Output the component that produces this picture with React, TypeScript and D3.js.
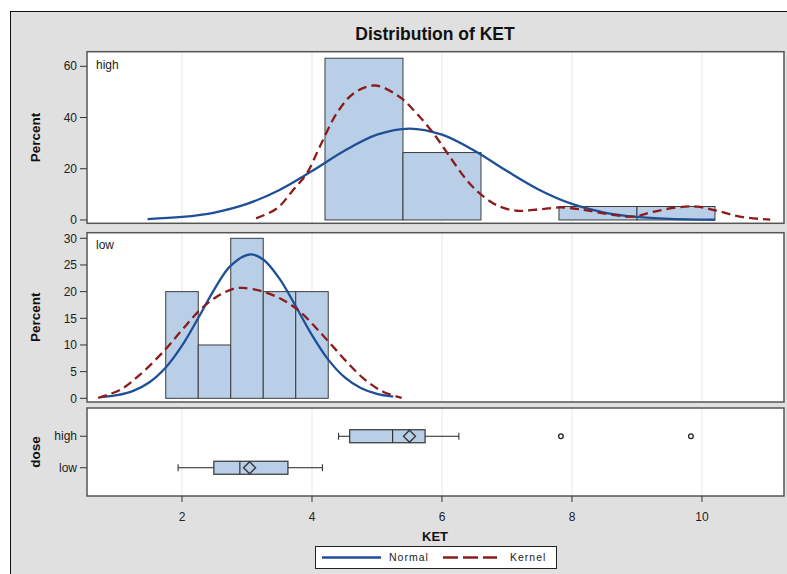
import React from "react";
import * as d3 from "d3";

// Histogram bins (KET) and percentages per dose group
const highEdges = [4.2, 5.4, 6.6, 7.8, 9.0, 10.2];
const highPct = [63.16, 26.32, 0, 5.26, 5.26];
const lowEdges = [1.75, 2.25, 2.75, 3.25, 3.75, 4.25];
const lowPct = [20, 10, 30, 20, 20];

// Fitted normal curve, high dose
const highNormalX = [1.47, 2.0, 2.5, 3.0, 3.5, 4.0, 4.5, 5.0, 5.5, 6.0, 6.5, 7.0, 7.5, 8.0, 8.5, 9.0, 9.5, 10.0, 10.2];
const highNormalY = [0.35, 1.18, 2.91, 6.26, 11.72, 19.08, 27.02, 33.3, 35.7, 33.3, 27.02, 19.08, 11.72, 6.26, 2.91, 1.18, 0.41, 0.13, 0.08];

// Kernel density, high dose
const highKernelX = [3.14, 3.46, 3.71, 3.92, 4.12, 4.38, 4.64, 4.97, 5.35, 5.61, 5.87, 6.12, 6.38, 6.58, 6.84, 7.15, 7.51, 7.82, 8.12, 8.48, 8.94, 9.25, 9.61, 9.92, 10.23, 10.58, 11.05];
const highKernelY = [0.65, 4.5, 11.7, 18.2, 28.6, 41.6, 49.4, 52.5, 48.0, 41.6, 33.8, 24.7, 15.6, 10.4, 5.8, 3.6, 4.2, 4.9, 4.2, 2.6, 1.3, 3.2, 4.9, 5.2, 3.6, 1.3, 0.1];

// Fitted normal curve, low dose
const lowNormalX = [0.75, 1.0, 1.25, 1.5, 1.75, 2.0, 2.25, 2.5, 2.75, 3.05, 3.25, 3.5, 3.75, 4.0, 4.25, 4.5, 4.75, 5.0, 5.25];
const lowNormalY = [0.22, 0.58, 1.4, 3.01, 5.77, 9.87, 15.05, 20.49, 24.87, 27.0, 26.03, 22.44, 17.26, 11.85, 7.25, 3.96, 1.93, 0.84, 0.33];

// Kernel density, low dose
const lowKernelX = [0.71, 1.05, 1.35, 1.74, 2.02, 2.28, 2.54, 2.79, 2.94, 3.25, 3.56, 3.82, 4.07, 4.28, 4.53, 4.79, 5.1, 5.38];
const lowKernelY = [0.1, 1.6, 4.4, 9.1, 13.1, 16.6, 19.1, 20.5, 20.7, 20.0, 18.4, 16.2, 13.1, 10.3, 6.9, 3.75, 1.2, 0.1];

// Box plot statistics
const doseGroups = ["high", "low"];
const boxMin = [4.41, 1.94];
const boxQ1 = [4.58, 2.49];
const boxMedian = [5.24, 2.89];
const boxMean = [5.5, 3.04];
const boxQ3 = [5.74, 3.63];
const boxMax = [6.26, 4.16];
const highOutliers = [7.83, 9.83];

const xTicks = [2, 4, 6, 8, 10];
const highTicks = [0, 20, 40, 60];
const lowTicks = [0, 5, 10, 15, 20, 25, 30];

const W = 787;
const H = 574;
const PL = 87;
const PR = 784;
const FONT = "'Liberation Sans', Arial, sans-serif";

const BAR_FILL = "#b9cfe8";
const BAR_STROKE = "#3c3c3c";
const NORMAL = "#1f4f96";
const KERNEL = "#8c1c1c";
const FRAME = "#555";
const TICK_FS = 12;
const LABEL_FS = 13.5;

const x = d3.scaleLinear().domain([0.5385, 11.262]).range([PL, PR]);

const yHigh = d3.scaleLinear().domain([-1.3, 65.7]).range([223.3, 51.7]);
const yLow = d3.scaleLinear().domain([-0.69, 31.05]).range([402, 232.7]);
const yDose = d3.scalePoint<string>().domain(doseGroups).range([408, 496]).padding(0.897);

function curvePath(xs: number[], ys: number[], y: d3.ScaleLinear<number, number>) {
  const line = d3
    .line<number>()
    .x((_, i) => x(xs[i]))
    .y((_, i) => y(ys[i]))
    .curve(d3.curveCatmullRom.alpha(0.5));
  return line(xs) || "";
}

function Grid({ top, bottom }: { top: number; bottom: number }) {
  return (
    <g>
      {xTicks.map((t) => (
        <line key={t} x1={x(t)} x2={x(t)} y1={top} y2={bottom} stroke="#e6e6e6" strokeWidth={1} />
      ))}
    </g>
  );
}

function YAxis({ ticks, y }: { ticks: number[]; y: d3.ScaleLinear<number, number> }) {
  return (
    <g>
      {ticks.map((t) => (
        <g key={t}>
          <line x1={PL - 7} x2={PL} y1={y(t)} y2={y(t)} stroke="#333" strokeWidth={1} />
          <text x={PL - 10} y={y(t)} dy="0.35em" textAnchor="end" fontSize={TICK_FS} fill="#222">
            {t}
          </text>
        </g>
      ))}
    </g>
  );
}

function Bars({ edges, pct, y }: { edges: number[]; pct: number[]; y: d3.ScaleLinear<number, number> }) {
  return (
    <g>
      {pct.map((p, i) =>
        p > 0 ? (
          <rect
            key={i}
            x={x(edges[i])}
            y={y(p)}
            width={x(edges[i + 1]) - x(edges[i])}
            height={y(0) - y(p)}
            fill={BAR_FILL}
            stroke={BAR_STROKE}
            strokeWidth={1}
          />
        ) : null
      )}
    </g>
  );
}

export default function App() {
  const highTop = 51.7, highBot = 223.3;
  const lowTop = 232.7, lowBot = 402;
  const boxTop = 408, boxBot = 496;
  const boxH = 13;

  return (
    <svg
      width={W}
      height={H}
      style={{ position: "absolute", left: 0, top: 0, fontFamily: FONT }}
    >
      <rect x={0} y={0} width={W} height={H} fill="#fff" />
      <rect x={10.5} y={11.5} width={W + 10} height={H + 10} fill="#e0e0e0" stroke="#111" strokeWidth={1} />

      <text x={435} y={40} textAnchor="middle" fontSize={17.5} fontWeight="bold" fill="#111">
        Distribution of KET
      </text>

      {/* high dose histogram */}
      <rect x={PL} y={highTop} width={PR - PL} height={highBot - highTop} fill="#fff" />
      <Grid top={highTop} bottom={highBot} />
      <Bars edges={highEdges} pct={highPct} y={yHigh} />
      <path d={curvePath(highNormalX, highNormalY, yHigh)} fill="none" stroke={NORMAL} strokeWidth={2.3} />
      <path d={curvePath(highKernelX, highKernelY, yHigh)} fill="none" stroke={KERNEL} strokeWidth={2.3} strokeDasharray="9,5" />
      <rect x={PL} y={highTop} width={PR - PL} height={highBot - highTop} fill="none" stroke={FRAME} strokeWidth={1.5} />
      <text x={96} y={69} fontSize={TICK_FS} fill="#222">high</text>
      <YAxis ticks={highTicks} y={yHigh} />
      <text transform={`translate(40,${(highTop + highBot) / 2}) rotate(-90)`} textAnchor="middle" fontSize={LABEL_FS} fontWeight="bold" fill="#111">
        Percent
      </text>

      {/* low dose histogram */}
      <rect x={PL} y={lowTop} width={PR - PL} height={lowBot - lowTop} fill="#fff" />
      <Grid top={lowTop} bottom={lowBot} />
      <Bars edges={lowEdges} pct={lowPct} y={yLow} />
      <path d={curvePath(lowNormalX, lowNormalY, yLow)} fill="none" stroke={NORMAL} strokeWidth={2.3} />
      <path d={curvePath(lowKernelX, lowKernelY, yLow)} fill="none" stroke={KERNEL} strokeWidth={2.3} strokeDasharray="9,5" />
      <rect x={PL} y={lowTop} width={PR - PL} height={lowBot - lowTop} fill="none" stroke={FRAME} strokeWidth={1.5} />
      <text x={96} y={249} fontSize={TICK_FS} fill="#222">low</text>
      <YAxis ticks={lowTicks} y={yLow} />
      <text transform={`translate(40,${(lowTop + lowBot) / 2}) rotate(-90)`} textAnchor="middle" fontSize={LABEL_FS} fontWeight="bold" fill="#111">
        Percent
      </text>

      {/* box plots by dose */}
      <rect x={PL} y={boxTop} width={PR - PL} height={boxBot - boxTop} fill="#fff" />
      <Grid top={boxTop} bottom={boxBot} />
      {doseGroups.map((g, i) => {
        const cy = yDose(g) as number;
        const m = x(boxMean[i]);
        return (
          <g key={g}>
            <line x1={x(boxMin[i])} x2={x(boxQ1[i])} y1={cy} y2={cy} stroke="#222" strokeWidth={1} />
            <line x1={x(boxQ3[i])} x2={x(boxMax[i])} y1={cy} y2={cy} stroke="#222" strokeWidth={1} />
            <line x1={x(boxMin[i])} x2={x(boxMin[i])} y1={cy - 3.5} y2={cy + 3.5} stroke="#222" strokeWidth={1} />
            <line x1={x(boxMax[i])} x2={x(boxMax[i])} y1={cy - 3.5} y2={cy + 3.5} stroke="#222" strokeWidth={1} />
            <rect
              x={x(boxQ1[i])}
              y={cy - boxH / 2}
              width={x(boxQ3[i]) - x(boxQ1[i])}
              height={boxH}
              fill={BAR_FILL}
              stroke="#333"
              strokeWidth={1.2}
            />
            <line x1={x(boxMedian[i])} x2={x(boxMedian[i])} y1={cy - boxH / 2} y2={cy + boxH / 2} stroke="#333" strokeWidth={1.2} />
            <path d={`M${m - 6},${cy} L${m},${cy - 6} L${m + 6},${cy} L${m},${cy + 6} Z`} fill="none" stroke="#333" strokeWidth={1.3} />
          </g>
        );
      })}
      {highOutliers.map((v) => (
        <circle key={v} cx={x(v)} cy={yDose("high") as number} r={2.3} fill="#fff" stroke="#222" strokeWidth={1.3} />
      ))}
      <rect x={PL} y={boxTop} width={PR - PL} height={boxBot - boxTop} fill="none" stroke={FRAME} strokeWidth={1.5} />
      {doseGroups.map((g) => (
        <g key={g}>
          <line x1={PL - 7} x2={PL} y1={yDose(g) as number} y2={yDose(g) as number} stroke="#333" strokeWidth={1} />
          <text x={PL - 10} y={yDose(g) as number} dy="0.35em" textAnchor="end" fontSize={TICK_FS} fill="#222">
            {g}
          </text>
        </g>
      ))}
      <text transform={`translate(40,${(boxTop + boxBot) / 2}) rotate(-90)`} textAnchor="middle" fontSize={LABEL_FS} fontWeight="bold" fill="#111">
        dose
      </text>

      {/* shared KET axis */}
      {xTicks.map((t) => (
        <g key={t}>
          <line x1={x(t)} x2={x(t)} y1={boxBot} y2={boxBot + 6} stroke="#333" strokeWidth={1} />
          <text x={x(t)} y={520.5} textAnchor="middle" fontSize={TICK_FS} fill="#222">
            {t}
          </text>
        </g>
      ))}
      <text x={435} y={541} textAnchor="middle" fontSize={13} fontWeight="bold" fill="#111">
        KET
      </text>

      {/* legend */}
      <rect x={315.5} y={546.5} width={241} height={22} fill="#fff" stroke="#222" strokeWidth={1} />
      <line x1={322} x2={381} y1={557.5} y2={557.5} stroke={NORMAL} strokeWidth={2.5} />
      <text x={389} y={561} fontSize={10.5} letterSpacing={1} fill="#222">Normal</text>
      <line x1={443} x2={497} y1={557.5} y2={557.5} stroke={KERNEL} strokeWidth={2.5} strokeDasharray="15,5" />
      <text x={510} y={561} fontSize={10.5} letterSpacing={1} fill="#222">Kernel</text>
    </svg>
  );
}
